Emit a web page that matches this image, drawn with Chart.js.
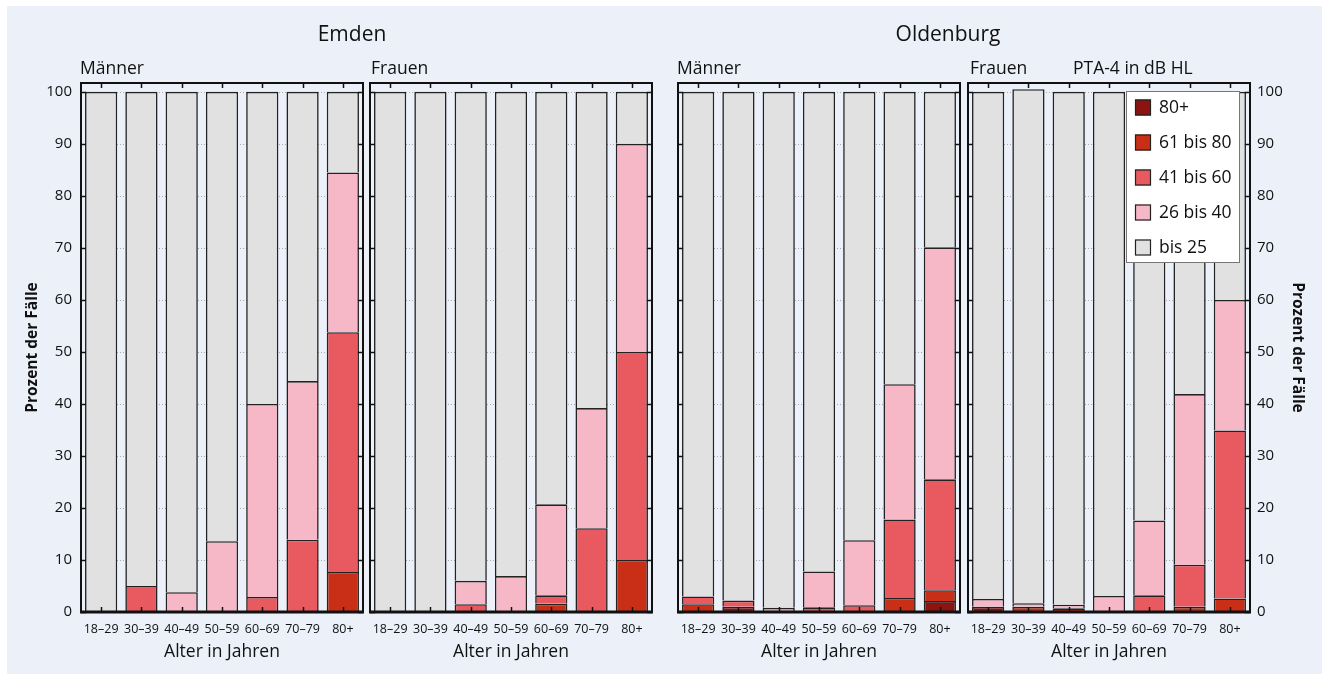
<!DOCTYPE html>
<html><head><meta charset="utf-8">
<script src="https://cdn.jsdelivr.net/npm/chart.js@4.4.1/dist/chart.umd.min.js"></script>
<style>
html,body{margin:0;padding:0;background:#fff;}
#wrap{position:relative;width:1322px;height:674px;overflow:hidden;}
#bg{position:absolute;left:7px;top:6px;right:0;bottom:0;background:#ecf0f9;}
canvas{position:absolute;left:0;top:0;}
.t{position:absolute;font-family:'Open Sans',sans-serif;color:#111;white-space:nowrap;line-height:24px;height:24px;}
</style></head><body>
<div id="wrap">
<div id="bg"></div>
<canvas id="c1" width="1322" height="674"></canvas>
<canvas id="c2" width="1322" height="674"></canvas>
<canvas id="c3" width="1322" height="674"></canvas>
<canvas id="c4" width="1322" height="674"></canvas>
<div class="t" style="left:352px;top:21px;font-size:21px;transform:translateX(-50%);">Emden</div>
<div class="t" style="left:948px;top:21px;font-size:21px;transform:translateX(-50%);">Oldenburg</div>
<div class="t" style="left:80px;top:55px;font-size:17.5px;">Männer</div>
<div class="t" style="left:371px;top:55px;font-size:17.5px;">Frauen</div>
<div class="t" style="left:677px;top:55px;font-size:17.5px;">Männer</div>
<div class="t" style="left:970px;top:55px;font-size:17.5px;">Frauen</div>
<div class="t" style="left:1073px;top:55px;font-size:17.5px;">PTA-4 in dB HL</div>
</div>
<script>
// ---- data ----
const ageGroups = ['18–29','30–39','40–49','50–59','60–69','70–79','80+'];
const levelLabels = ['80+','61 bis 80','41 bis 60','26 bis 40','bis 25'];
const levelColors = ['#8b1410','#c92f16','#e85a5f','#f6b7c6','#e1e1e1'];
const yTickValues = [0,10,20,30,40,50,60,70,80,90,100];

// Emden, Männer
const emdenM_80plus = [0,0,0,0,0,0,0];
const emdenM_61_80  = [0,0,0,0,0,0,7.7];
const emdenM_41_60  = [0,5,0,0,2.9,13.9,46.1];
const emdenM_26_40  = [0,0,3.8,13.6,37.1,30.5,30.7];
const emdenM_bis25  = [100,95,96.2,86.4,60,55.6,15.5];
// Emden, Frauen
const emdenF_80plus = [0,0,0,0,0,0,0];
const emdenF_61_80  = [0,0,0,0,1.6,0,10];
const emdenF_41_60  = [0,0,1.5,0,1.6,16.1,40];
const emdenF_26_40  = [0,0,4.5,6.9,17.5,23.1,40];
const emdenF_bis25  = [100,100,94,93.1,79.3,60.8,10];
// Oldenburg, Männer
const oldM_80plus = [0,1.0,0,0,0,0,2.1];
const oldM_61_80  = [1.5,0,0,0,0,2.7,2.1];
const oldM_41_60  = [1.5,1.2,0,0.9,1.3,15.1,21.3];
const oldM_26_40  = [0,0,0.8,6.9,12.5,26.0,44.6];
const oldM_bis25  = [97,97.8,99.2,92.2,86.2,56.2,29.9];
// Oldenburg, Frauen
const oldF_80plus = [1.0,0,0,0,0,0,0];
const oldF_61_80  = [0,1.0,0.7,0,0,1.0,2.6];
const oldF_41_60  = [0,0,0,0,3.2,8.1,32.3];
const oldF_26_40  = [1.5,0.7,0.7,3.1,14.4,32.8,25.1];
const oldF_bis25  = [97.5,98.8,98.6,96.9,82.4,58.1,40];

Chart.defaults.font.family = "'Open Sans', sans-serif";
Chart.defaults.color = '#111';

const framePlugin = {
  id: 'frame',
  beforeDatasetsDraw(chart) {
    const {ctx, chartArea: a, scales: {y}} = chart;
    ctx.save();
    ctx.strokeStyle = '#a8a8a8'; ctx.lineWidth = 1; ctx.setLineDash([1,2]);
    yTickValues.forEach(v => {
      const py = Math.round(y.getPixelForValue(v)) + 0.5;
      ctx.beginPath(); ctx.moveTo(a.left, py); ctx.lineTo(a.right, py); ctx.stroke();
    });
    ctx.restore();
  },
  afterDatasetsDraw(chart) {
    const {ctx, chartArea: a, scales: {x, y}} = chart;
    ctx.save();
    ctx.strokeStyle = '#111';
    ctx.lineWidth = 1.5;
    yTickValues.forEach(v => {
      const py = Math.round(y.getPixelForValue(v)) + 0.5;
      ctx.beginPath(); ctx.moveTo(a.left, py); ctx.lineTo(a.left + 5, py); ctx.stroke();
      ctx.beginPath(); ctx.moveTo(a.right, py); ctx.lineTo(a.right - 5, py); ctx.stroke();
    });
    ageGroups.forEach((g, i) => {
      const px = Math.round(x.getPixelForValue(i)) + 0.5;
      ctx.beginPath(); ctx.moveTo(px, a.top); ctx.lineTo(px, a.top + 5); ctx.stroke();
      ctx.beginPath(); ctx.moveTo(px, a.bottom); ctx.lineTo(px, a.bottom - 5); ctx.stroke();
    });
    ctx.lineWidth = 2;
    ctx.strokeRect(a.left, a.top, a.right - a.left, a.bottom - a.top);
    ctx.lineWidth = 3;
    ctx.beginPath(); ctx.moveTo(a.left - 1, a.bottom); ctx.lineTo(a.right + 1, a.bottom); ctx.stroke();
    ctx.restore();
  }
};

const legendPlugin = {
  id: 'boxLegend',
  afterDraw(chart) {
    const ctx = chart.ctx;
    const bx = 1126, by = 91, bw = 113, bh = 171;
    ctx.save();
    ctx.fillStyle = '#fff'; ctx.fillRect(bx, by, bw, bh);
    ctx.strokeStyle = '#777'; ctx.lineWidth = 1; ctx.strokeRect(bx + 0.5, by + 0.5, bw, bh);
    chart.data.datasets.forEach((ds, i) => {
      const cy = 107.5 + i * 35;
      ctx.fillStyle = ds.backgroundColor; ctx.fillRect(1135, cy - 8, 16, 16);
      ctx.strokeStyle = '#222'; ctx.lineWidth = 1.2; ctx.strokeRect(1135.5, cy - 7.5, 15, 15);
      ctx.fillStyle = '#111'; ctx.font = "17.5px 'Open Sans', sans-serif"; ctx.textBaseline = 'middle'; ctx.textAlign = 'left';
      ctx.fillText(ds.label, 1159, cy + 1);
    });
    ctx.restore();
  }
};

function makePanel(id, series, padL, padR, yMode, withLegend) {
  const datasets = series.map((vals, i) => ({
    label: levelLabels[i],
    data: vals,
    backgroundColor: levelColors[i],
    borderColor: '#222',
    borderWidth: 1.6,
    borderSkipped: 'start',
    barPercentage: 0.8,
    categoryPercentage: 1.0
  }));
  const yTitlePad = yMode === 'left' ? 23 : 15.5;
  const yWidth = yMode === 'left' ? 81 : (yMode === 'right' ? 72 : 0);
  new Chart(document.getElementById(id), {
    type: 'bar',
    data: { labels: ageGroups, datasets },
    options: {
      responsive: false, animation: false,
      layout: { padding: { left: padL, right: padR, top: 83, bottom: 0 } },
      plugins: { legend: { display: false }, tooltip: { enabled: false } },
      scales: {
        x: {
          stacked: true, offset: true,
          grid: { display: false, drawTicks: false }, border: { display: false },
          ticks: { font: { size: 12.5 }, color: '#111', padding: 10, maxRotation: 0, autoSkip: false },
          title: { display: true, text: 'Alter in Jahren', font: { size: 17.5 }, color: '#111', padding: { top: 0, bottom: 11 } },
          afterFit(s) { s.height = 62; }
        },
        y: {
          stacked: true, min: 0, max: 101.7,
          display: yMode !== 'none',
          position: yMode === 'right' ? 'right' : 'left',
          grid: { display: false, drawTicks: false }, border: { display: false },
          afterBuildTicks(s) { s.ticks = yTickValues.map(v => ({ value: v })); },
          ticks: { font: { size: 15 }, color: '#111', padding: yMode === 'right' ? 7 : 9 },
          title: { display: true, text: 'Prozent der Fälle', font: { size: 15.5, weight: 'bold' }, color: '#111', padding: { top: yTitlePad, bottom: 0 } },
          afterFit(s) { s.width = yWidth; }
        }
      }
    },
    plugins: withLegend ? [framePlugin, legendPlugin] : [framePlugin]
  });
}

makePanel('c1', [emdenM_80plus, emdenM_61_80, emdenM_41_60, emdenM_26_40, emdenM_bis25], 0, 959, 'left', false);
makePanel('c2', [emdenF_80plus, emdenF_61_80, emdenF_41_60, emdenF_26_40, emdenF_bis25], 370, 670, 'none', false);
makePanel('c3', [oldM_80plus, oldM_61_80, oldM_41_60, oldM_26_40, oldM_bis25], 678, 362, 'none', false);
makePanel('c4', [oldF_80plus, oldF_61_80, oldF_41_60, oldF_26_40, oldF_bis25], 968, 0, 'right', true);
</script>
</body></html>
